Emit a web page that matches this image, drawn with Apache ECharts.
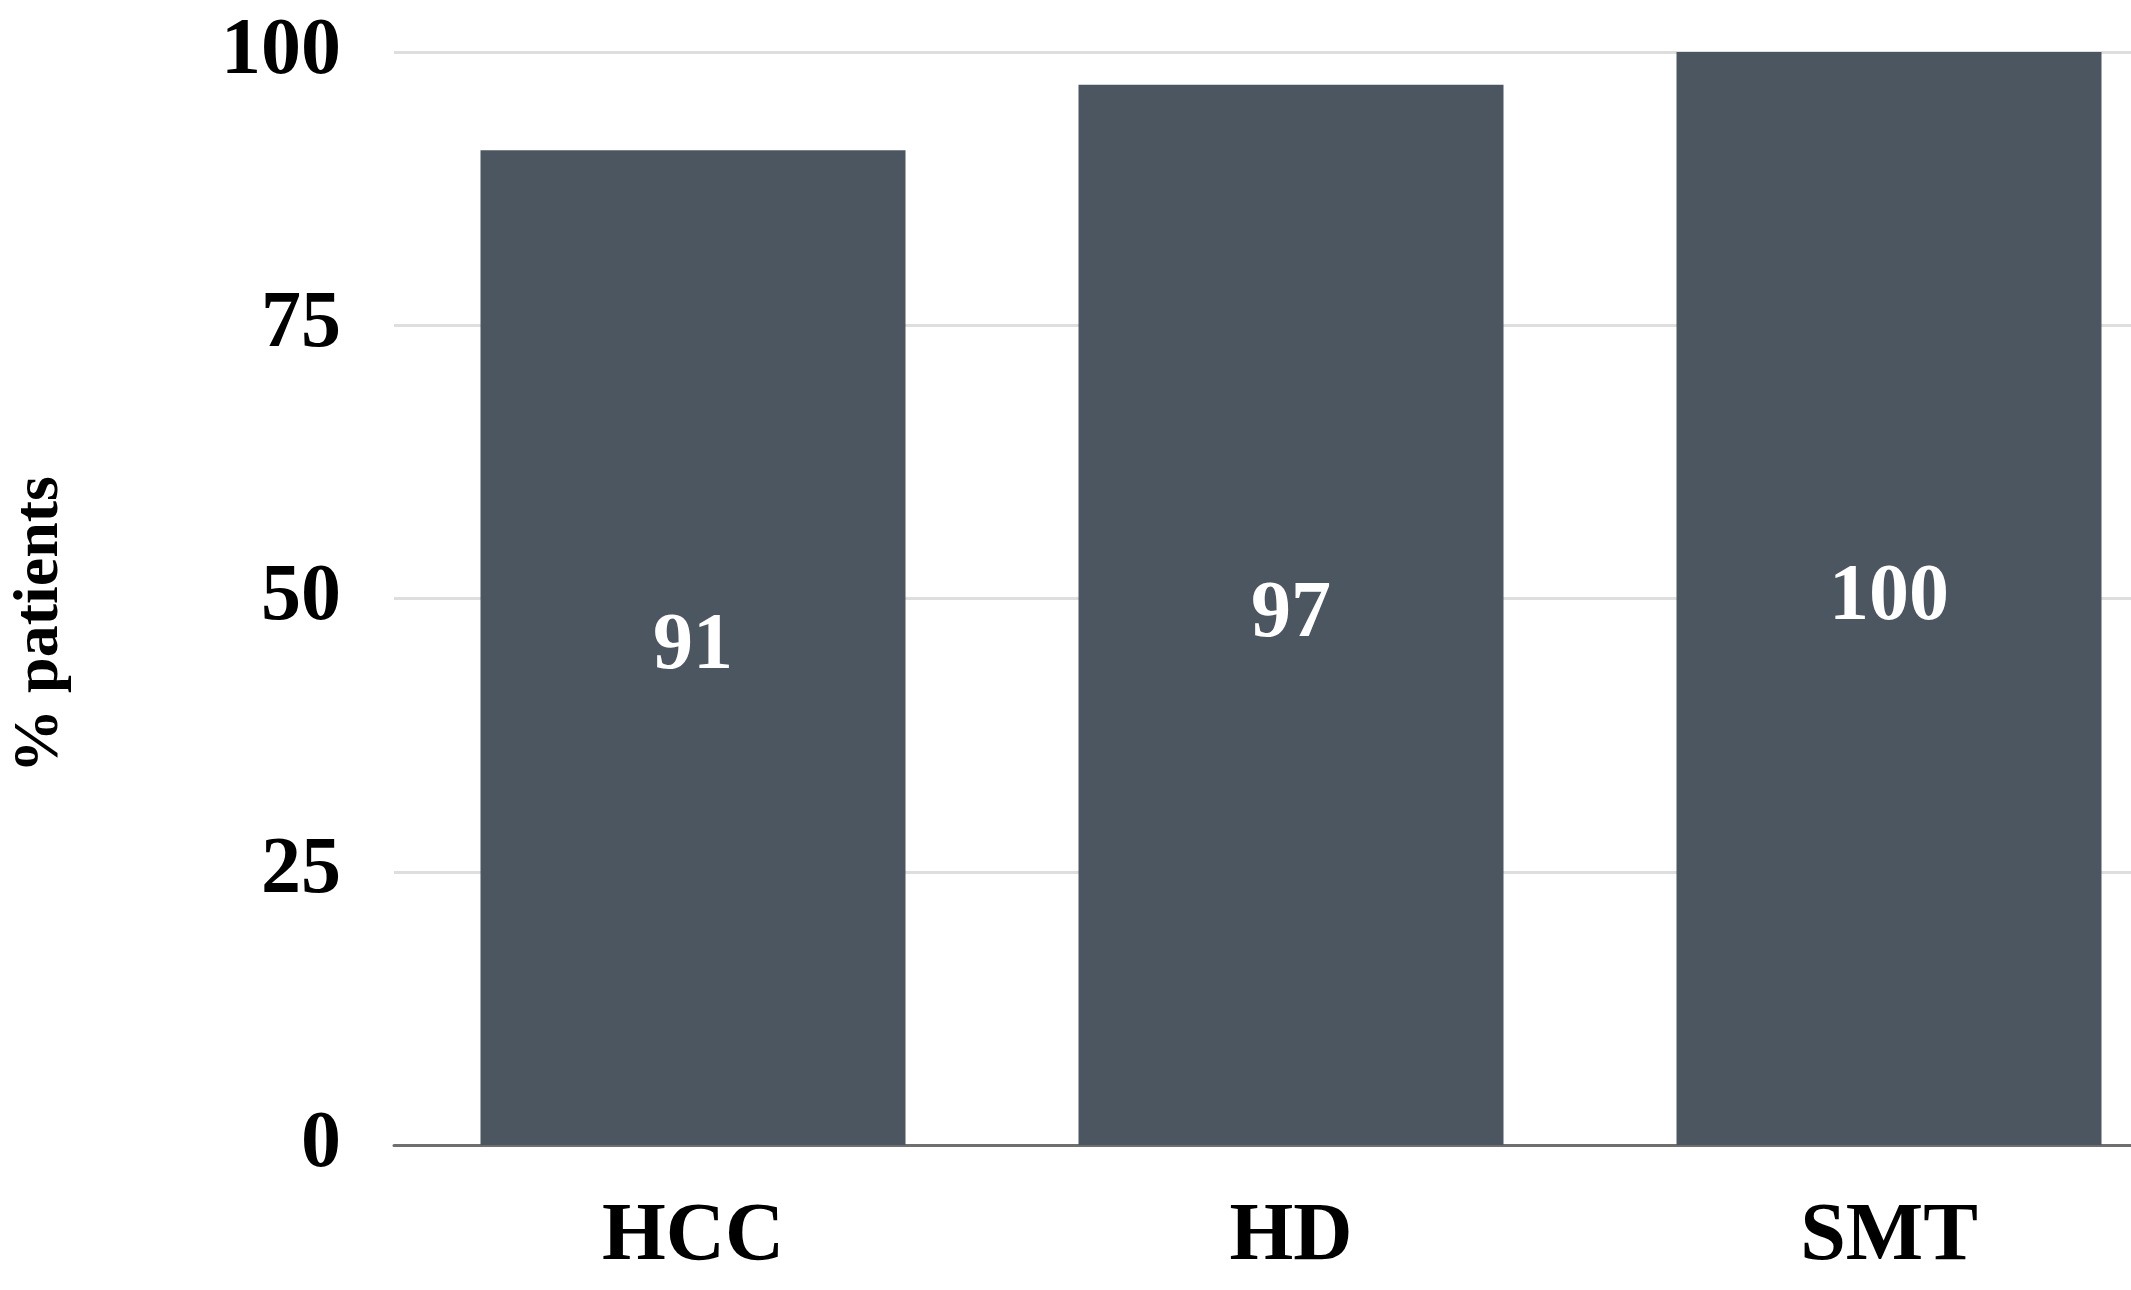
<!DOCTYPE html>
<html>
<head>
<meta charset="utf-8">
<script src="https://cdn.jsdelivr.net/npm/echarts@6/dist/echarts.min.js"></script>
<style>
html,body{margin:0;padding:0;background:#fff;}
#chart{width:2131px;height:1290px;}
</style>
</head>
<body>
<div id="chart"></div>
<script>
const categories = ['HCC', 'HD', 'SMT'];
const values = [91, 97, 100];
const yTicks = [0, 25, 50, 75, 100];
const yAxisName = '% patients';

const FONT = '"Liberation Serif", "Times New Roman", serif';
const chart = echarts.init(document.getElementById('chart'), null, {renderer: 'canvas'});
chart.setOption({
  backgroundColor: '#ffffff',
  animation: false,
  grid: {left: 394, top: 52, height: 1093, width: 1794, containLabel: false, outerBoundsMode: 'none'},
  xAxis: {
    type: 'category',
    data: categories,
    axisLine: {show: true, lineStyle: {color: '#6f6f6f', width: 3}},
    axisTick: {show: false},
    axisLabel: {
      margin: 52,
      color: '#000',
      fontFamily: FONT,
      fontWeight: 'bold',
      fontSize: 82
    }
  },
  yAxis: {
    type: 'value',
    min: yTicks[0],
    max: yTicks[yTicks.length - 1],
    interval: yTicks[1] - yTicks[0],
    name: yAxisName,
    nameLocation: 'middle',
    nameGap: 322,
    nameRotate: 90,
    nameTextStyle: {
      color: '#000',
      fontFamily: FONT,
      fontWeight: 'bold',
      fontSize: 64,
      padding: [0, 52, 0, 0]
    },
    axisLine: {show: false},
    axisTick: {show: false},
    splitLine: {show: true, lineStyle: {color: '#dedede', width: 3}},
    axisLabel: {
      margin: 53,
      color: '#000',
      fontFamily: FONT,
      fontWeight: 'bold',
      fontSize: 80
    }
  },
  series: [{
    type: 'bar',
    data: values,
    barWidth: 425,
    itemStyle: {color: '#4b5660'},
    label: {
      show: true,
      position: 'inside',
      color: '#ffffff',
      fontFamily: FONT,
      fontWeight: 'bold',
      fontSize: 80
    }
  }]
});
</script>
</body>
</html>
